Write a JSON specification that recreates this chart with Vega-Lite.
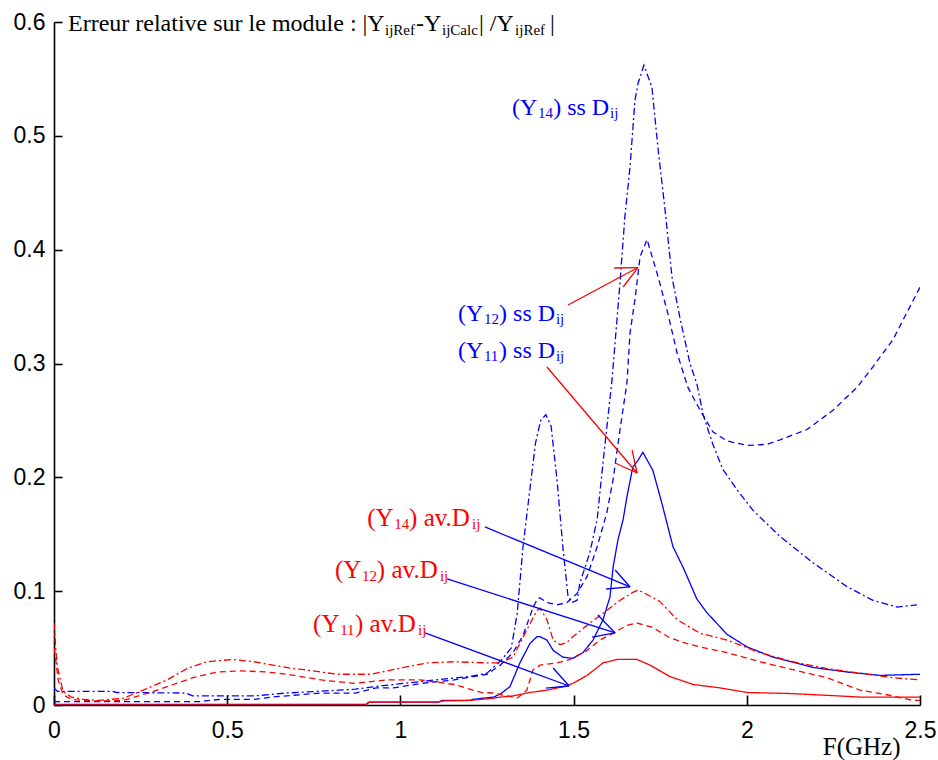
{
  "$schema": "https://vega.github.io/schema/vega-lite/v6.json",
  "width": 866,
  "height": 683,
  "autosize": {"type": "none"},
  "padding": {"left": 54, "top": 22, "right": 18, "bottom": 55},
  "background": "white",
  "config": {
    "view": {"stroke": null},
    "axis": {
      "grid": false,
      "domainColor": "black",
      "domainWidth": 1.6,
      "tickColor": "black",
      "tickWidth": 1.6,
      "labelFont": "Liberation Sans",
      "labelFontSize": 23,
      "labelColor": "black"
    }
  },
  "datasets": {
    "curves": [
      {"s":"Y14 ss","f":0,"v":0.015},{"s":"Y14 ss","f":0.01,"v":0.012},{"s":"Y14 ss","f":0.17,"v":0.012},{"s":"Y14 ss","f":0.18,"v":0.011},{"s":"Y14 ss","f":0.38,"v":0.0105},{"s":"Y14 ss","f":0.4,"v":0.008},{"s":"Y14 ss","f":0.58,"v":0.008},{"s":"Y14 ss","f":0.67,"v":0.0105},{"s":"Y14 ss","f":0.82,"v":0.013},{"s":"Y14 ss","f":0.87,"v":0.014},{"s":"Y14 ss","f":0.95,"v":0.017},{"s":"Y14 ss","f":1.01,"v":0.019},{"s":"Y14 ss","f":1.1,"v":0.022},{"s":"Y14 ss","f":1.2,"v":0.025},{"s":"Y14 ss","f":1.25,"v":0.028},{"s":"Y14 ss","f":1.29,"v":0.039},{"s":"Y14 ss","f":1.32,"v":0.05},{"s":"Y14 ss","f":1.337,"v":0.08},{"s":"Y14 ss","f":1.354,"v":0.139},{"s":"Y14 ss","f":1.374,"v":0.19},{"s":"Y14 ss","f":1.39,"v":0.23},{"s":"Y14 ss","f":1.405,"v":0.25},{"s":"Y14 ss","f":1.42,"v":0.255},{"s":"Y14 ss","f":1.435,"v":0.245},{"s":"Y14 ss","f":1.452,"v":0.198},{"s":"Y14 ss","f":1.469,"v":0.139},{"s":"Y14 ss","f":1.484,"v":0.095},{"s":"Y14 ss","f":1.495,"v":0.09},{"s":"Y14 ss","f":1.51,"v":0.092},{"s":"Y14 ss","f":1.518,"v":0.107},{"s":"Y14 ss","f":1.547,"v":0.134},{"s":"Y14 ss","f":1.568,"v":0.163},{"s":"Y14 ss","f":1.585,"v":0.213},{"s":"Y14 ss","f":1.611,"v":0.286},{"s":"Y14 ss","f":1.634,"v":0.371},{"s":"Y14 ss","f":1.648,"v":0.429},{"s":"Y14 ss","f":1.663,"v":0.473},{"s":"Y14 ss","f":1.677,"v":0.531},{"s":"Y14 ss","f":1.686,"v":0.546},{"s":"Y14 ss","f":1.703,"v":0.562},{"s":"Y14 ss","f":1.726,"v":0.543},{"s":"Y14 ss","f":1.744,"v":0.488},{"s":"Y14 ss","f":1.764,"v":0.435},{"s":"Y14 ss","f":1.784,"v":0.376},{"s":"Y14 ss","f":1.807,"v":0.34},{"s":"Y14 ss","f":1.836,"v":0.3},{"s":"Y14 ss","f":1.856,"v":0.282},{"s":"Y14 ss","f":1.874,"v":0.255},{"s":"Y14 ss","f":1.902,"v":0.229},{"s":"Y14 ss","f":1.931,"v":0.207},{"s":"Y14 ss","f":1.972,"v":0.189},{"s":"Y14 ss","f":2.018,"v":0.171},{"s":"Y14 ss","f":2.096,"v":0.148},{"s":"Y14 ss","f":2.191,"v":0.125},{"s":"Y14 ss","f":2.289,"v":0.104},{"s":"Y14 ss","f":2.364,"v":0.092},{"s":"Y14 ss","f":2.434,"v":0.086},{"s":"Y14 ss","f":2.491,"v":0.088},

      {"s":"Y12 ss","f":0,"v":0.003},{"s":"Y12 ss","f":0.42,"v":0.003},{"s":"Y12 ss","f":0.48,"v":0.005},{"s":"Y12 ss","f":0.58,"v":0.005},{"s":"Y12 ss","f":0.63,"v":0.007},{"s":"Y12 ss","f":0.77,"v":0.0105},{"s":"Y12 ss","f":0.87,"v":0.0105},{"s":"Y12 ss","f":0.93,"v":0.015},{"s":"Y12 ss","f":0.98,"v":0.015},{"s":"Y12 ss","f":1.06,"v":0.019},{"s":"Y12 ss","f":1.155,"v":0.022},{"s":"Y12 ss","f":1.21,"v":0.025},{"s":"Y12 ss","f":1.25,"v":0.027},{"s":"Y12 ss","f":1.288,"v":0.035},{"s":"Y12 ss","f":1.325,"v":0.046},{"s":"Y12 ss","f":1.354,"v":0.061},{"s":"Y12 ss","f":1.374,"v":0.078},{"s":"Y12 ss","f":1.383,"v":0.086},{"s":"Y12 ss","f":1.397,"v":0.094},{"s":"Y12 ss","f":1.403,"v":0.094},{"s":"Y12 ss","f":1.423,"v":0.09},{"s":"Y12 ss","f":1.452,"v":0.088},{"s":"Y12 ss","f":1.481,"v":0.09},{"s":"Y12 ss","f":1.51,"v":0.098},{"s":"Y12 ss","f":1.539,"v":0.113},{"s":"Y12 ss","f":1.568,"v":0.139},{"s":"Y12 ss","f":1.596,"v":0.169},{"s":"Y12 ss","f":1.614,"v":0.198},{"s":"Y12 ss","f":1.634,"v":0.242},{"s":"Y12 ss","f":1.654,"v":0.283},{"s":"Y12 ss","f":1.663,"v":0.327},{"s":"Y12 ss","f":1.677,"v":0.356},{"s":"Y12 ss","f":1.692,"v":0.394},{"s":"Y12 ss","f":1.712,"v":0.409},{"s":"Y12 ss","f":1.744,"v":0.376},{"s":"Y12 ss","f":1.772,"v":0.344},{"s":"Y12 ss","f":1.799,"v":0.309},{"s":"Y12 ss","f":1.83,"v":0.279},{"s":"Y12 ss","f":1.865,"v":0.259},{"s":"Y12 ss","f":1.902,"v":0.24},{"s":"Y12 ss","f":1.943,"v":0.232},{"s":"Y12 ss","f":2.001,"v":0.228},{"s":"Y12 ss","f":2.058,"v":0.229},{"s":"Y12 ss","f":2.096,"v":0.233},{"s":"Y12 ss","f":2.174,"v":0.242},{"s":"Y12 ss","f":2.249,"v":0.259},{"s":"Y12 ss","f":2.318,"v":0.279},{"s":"Y12 ss","f":2.364,"v":0.297},{"s":"Y12 ss","f":2.422,"v":0.321},{"s":"Y12 ss","f":2.471,"v":0.35},{"s":"Y12 ss","f":2.5,"v":0.367},

      {"s":"Y11 ss","f":0,"v":0.0005},{"s":"Y11 ss","f":0.9,"v":0.0005},{"s":"Y11 ss","f":0.91,"v":0.0026},{"s":"Y11 ss","f":1.11,"v":0.0026},{"s":"Y11 ss","f":1.12,"v":0.004},{"s":"Y11 ss","f":1.2,"v":0.004},{"s":"Y11 ss","f":1.21,"v":0.005},{"s":"Y11 ss","f":1.27,"v":0.007},{"s":"Y11 ss","f":1.29,"v":0.01},{"s":"Y11 ss","f":1.316,"v":0.016},{"s":"Y11 ss","f":1.345,"v":0.037},{"s":"Y11 ss","f":1.374,"v":0.054},{"s":"Y11 ss","f":1.394,"v":0.06},{"s":"Y11 ss","f":1.403,"v":0.06},{"s":"Y11 ss","f":1.423,"v":0.057},{"s":"Y11 ss","f":1.441,"v":0.048},{"s":"Y11 ss","f":1.469,"v":0.042},{"s":"Y11 ss","f":1.498,"v":0.041},{"s":"Y11 ss","f":1.527,"v":0.046},{"s":"Y11 ss","f":1.556,"v":0.057},{"s":"Y11 ss","f":1.585,"v":0.075},{"s":"Y11 ss","f":1.605,"v":0.095},{"s":"Y11 ss","f":1.614,"v":0.121},{"s":"Y11 ss","f":1.628,"v":0.145},{"s":"Y11 ss","f":1.643,"v":0.163},{"s":"Y11 ss","f":1.654,"v":0.183},{"s":"Y11 ss","f":1.671,"v":0.209},{"s":"Y11 ss","f":1.686,"v":0.215},{"s":"Y11 ss","f":1.7,"v":0.222},{"s":"Y11 ss","f":1.729,"v":0.206},{"s":"Y11 ss","f":1.755,"v":0.177},{"s":"Y11 ss","f":1.787,"v":0.139},{"s":"Y11 ss","f":1.816,"v":0.121},{"s":"Y11 ss","f":1.856,"v":0.093},{"s":"Y11 ss","f":1.885,"v":0.081},{"s":"Y11 ss","f":1.943,"v":0.062},{"s":"Y11 ss","f":2.001,"v":0.051},{"s":"Y11 ss","f":2.076,"v":0.042},{"s":"Y11 ss","f":2.191,"v":0.033},{"s":"Y11 ss","f":2.289,"v":0.029},{"s":"Y11 ss","f":2.385,"v":0.026},{"s":"Y11 ss","f":2.5,"v":0.027},

      {"s":"Y11 av","f":0,"v":0},{"s":"Y11 av","f":0.9,"v":0},{"s":"Y11 av","f":0.91,"v":0.0026},{"s":"Y11 av","f":1.11,"v":0.0026},{"s":"Y11 av","f":1.12,"v":0.0035},{"s":"Y11 av","f":1.2,"v":0.004},{"s":"Y11 av","f":1.27,"v":0.006},{"s":"Y11 av","f":1.29,"v":0.007},{"s":"Y11 av","f":1.325,"v":0.008},{"s":"Y11 av","f":1.374,"v":0.011},{"s":"Y11 av","f":1.423,"v":0.013},{"s":"Y11 av","f":1.469,"v":0.016},{"s":"Y11 av","f":1.498,"v":0.019},{"s":"Y11 av","f":1.539,"v":0.026},{"s":"Y11 av","f":1.585,"v":0.037},{"s":"Y11 av","f":1.625,"v":0.04},{"s":"Y11 av","f":1.683,"v":0.04},{"s":"Y11 av","f":1.721,"v":0.035},{"s":"Y11 av","f":1.778,"v":0.025},{"s":"Y11 av","f":1.845,"v":0.018},{"s":"Y11 av","f":1.923,"v":0.015},{"s":"Y11 av","f":2.001,"v":0.011},{"s":"Y11 av","f":2.133,"v":0.01},{"s":"Y11 av","f":2.327,"v":0.007},{"s":"Y11 av","f":2.5,"v":0.007},

      {"s":"Y12 av","f":0,"v":0.05},{"s":"Y12 av","f":0.005,"v":0.04},{"s":"Y12 av","f":0.012,"v":0.022},{"s":"Y12 av","f":0.026,"v":0.009},{"s":"Y12 av","f":0.05,"v":0.005},{"s":"Y12 av","f":0.09,"v":0.004},{"s":"Y12 av","f":0.13,"v":0.0035},{"s":"Y12 av","f":0.2,"v":0.004},{"s":"Y12 av","f":0.277,"v":0.011},{"s":"Y12 av","f":0.344,"v":0.018},{"s":"Y12 av","f":0.401,"v":0.024},{"s":"Y12 av","f":0.471,"v":0.029},{"s":"Y12 av","f":0.537,"v":0.03},{"s":"Y12 av","f":0.615,"v":0.029},{"s":"Y12 av","f":0.673,"v":0.027},{"s":"Y12 av","f":0.771,"v":0.022},{"s":"Y12 av","f":0.866,"v":0.019},{"s":"Y12 av","f":0.961,"v":0.022},{"s":"Y12 av","f":1.059,"v":0.022},{"s":"Y12 av","f":1.155,"v":0.018},{"s":"Y12 av","f":1.233,"v":0.011},{"s":"Y12 av","f":1.27,"v":0.0105},{"s":"Y12 av","f":1.337,"v":0.006},{"s":"Y12 av","f":1.365,"v":0.013},{"s":"Y12 av","f":1.383,"v":0.031},{"s":"Y12 av","f":1.403,"v":0.035},{"s":"Y12 av","f":1.452,"v":0.037},{"s":"Y12 av","f":1.49,"v":0.04},{"s":"Y12 av","f":1.539,"v":0.048},{"s":"Y12 av","f":1.576,"v":0.057},{"s":"Y12 av","f":1.614,"v":0.063},{"s":"Y12 av","f":1.654,"v":0.07},{"s":"Y12 av","f":1.683,"v":0.072},{"s":"Y12 av","f":1.729,"v":0.068},{"s":"Y12 av","f":1.778,"v":0.059},{"s":"Y12 av","f":1.827,"v":0.054},{"s":"Y12 av","f":1.865,"v":0.051},{"s":"Y12 av","f":1.943,"v":0.046},{"s":"Y12 av","f":2.038,"v":0.038},{"s":"Y12 av","f":2.133,"v":0.031},{"s":"Y12 av","f":2.231,"v":0.024},{"s":"Y12 av","f":2.327,"v":0.013},{"s":"Y12 av","f":2.405,"v":0.009},{"s":"Y12 av","f":2.48,"v":0.004},{"s":"Y12 av","f":2.5,"v":0.004},

      {"s":"Y14 av","f":0,"v":0.072},{"s":"Y14 av","f":0.005,"v":0.05},{"s":"Y14 av","f":0.01,"v":0.033},{"s":"Y14 av","f":0.026,"v":0.012},{"s":"Y14 av","f":0.05,"v":0.007},{"s":"Y14 av","f":0.084,"v":0.005},{"s":"Y14 av","f":0.13,"v":0.004},{"s":"Y14 av","f":0.2,"v":0.006},{"s":"Y14 av","f":0.257,"v":0.013},{"s":"Y14 av","f":0.326,"v":0.022},{"s":"Y14 av","f":0.384,"v":0.032},{"s":"Y14 av","f":0.442,"v":0.038},{"s":"Y14 av","f":0.517,"v":0.04},{"s":"Y14 av","f":0.577,"v":0.038},{"s":"Y14 av","f":0.632,"v":0.035},{"s":"Y14 av","f":0.69,"v":0.032},{"s":"Y14 av","f":0.722,"v":0.031},{"s":"Y14 av","f":0.817,"v":0.027},{"s":"Y14 av","f":0.915,"v":0.027},{"s":"Y14 av","f":1.01,"v":0.033},{"s":"Y14 av","f":1.077,"v":0.037},{"s":"Y14 av","f":1.155,"v":0.038},{"s":"Y14 av","f":1.25,"v":0.037},{"s":"Y14 av","f":1.288,"v":0.037},{"s":"Y14 av","f":1.325,"v":0.042},{"s":"Y14 av","f":1.365,"v":0.066},{"s":"Y14 av","f":1.394,"v":0.083},{"s":"Y14 av","f":1.403,"v":0.085},{"s":"Y14 av","f":1.423,"v":0.075},{"s":"Y14 av","f":1.441,"v":0.057},{"s":"Y14 av","f":1.461,"v":0.053},{"s":"Y14 av","f":1.481,"v":0.055},{"s":"Y14 av","f":1.498,"v":0.06},{"s":"Y14 av","f":1.547,"v":0.072},{"s":"Y14 av","f":1.596,"v":0.083},{"s":"Y14 av","f":1.634,"v":0.092},{"s":"Y14 av","f":1.671,"v":0.099},{"s":"Y14 av","f":1.686,"v":0.101},{"s":"Y14 av","f":1.7,"v":0.099},{"s":"Y14 av","f":1.749,"v":0.091},{"s":"Y14 av","f":1.799,"v":0.075},{"s":"Y14 av","f":1.865,"v":0.063},{"s":"Y14 av","f":1.943,"v":0.057},{"s":"Y14 av","f":2.038,"v":0.046},{"s":"Y14 av","f":2.133,"v":0.038},{"s":"Y14 av","f":2.231,"v":0.032},{"s":"Y14 av","f":2.327,"v":0.028},{"s":"Y14 av","f":2.42,"v":0.024},{"s":"Y14 av","f":2.5,"v":0.022}
    ],
    "arrows": [
      {"target":"ss","f":1.484,"v":0.3514,"f2":1.686,"v2":0.3843},
      {"target":"ss","f":1.617,"v":0.3839,"f2":1.686,"v2":0.3843},
      {"target":"ss","f":1.643,"v":0.3672,"f2":1.686,"v2":0.3843},
      {"target":"ss","f":1.423,"v":0.2969,"f2":1.683,"v2":0.2038},
      {"target":"ss","f":1.669,"v":0.224,"f2":1.683,"v2":0.2038},
      {"target":"ss","f":1.62,"v":0.2126,"f2":1.683,"v2":0.2038},
      {"target":"av","f":1.244,"v":0.1564,"f2":1.663,"v2":0.1037},
      {"target":"av","f":1.62,"v":0.1186,"f2":1.663,"v2":0.1037},
      {"target":"av","f":1.594,"v":0.1019,"f2":1.663,"v2":0.1037},
      {"target":"av","f":1.135,"v":0.1107,"f2":1.62,"v2":0.0633},
      {"target":"av","f":1.57,"v":0.0791,"f2":1.62,"v2":0.0633},
      {"target":"av","f":1.553,"v":0.0597,"f2":1.62,"v2":0.0633},
      {"target":"av","f":1.071,"v":0.0633,"f2":1.487,"v2":0.0167},
      {"target":"av","f":1.441,"v":0.0325,"f2":1.487,"v2":0.0167},
      {"target":"av","f":1.42,"v":0.0149,"f2":1.487,"v2":0.0167}
    ],
    "labels": [
      {"g":"ss","k":"m","t":"(Y","f":1.322,"v":0.5183},
      {"g":"ss","k":"s","t":"14","f":1.397,"v":0.5157},
      {"g":"ss","k":"m","t":") ss D","f":1.441,"v":0.5183},
      {"g":"ss","k":"s","t":"ij","f":1.605,"v":0.5157},
      {"g":"ss","k":"m","t":"(Y","f":1.166,"v":0.3373},
      {"g":"ss","k":"s","t":"12","f":1.241,"v":0.3347},
      {"g":"ss","k":"m","t":") ss D","f":1.285,"v":0.3373},
      {"g":"ss","k":"s","t":"ij","f":1.449,"v":0.3347},
      {"g":"ss","k":"m","t":"(Y","f":1.166,"v":0.3048},
      {"g":"ss","k":"s","t":"11","f":1.241,"v":0.3022},
      {"g":"ss","k":"m","t":") ss D","f":1.285,"v":0.3048},
      {"g":"ss","k":"s","t":"ij","f":1.449,"v":0.3022},
      {"g":"av","k":"m","t":"(Y","f":0.904,"v":0.1573},
      {"g":"av","k":"s","t":"14","f":0.982,"v":0.1546},
      {"g":"av","k":"m","t":") av.D","f":1.025,"v":0.1573},
      {"g":"av","k":"s","t":"ij","f":1.207,"v":0.1546},
      {"g":"av","k":"m","t":"(Y","f":0.811,"v":0.1116},
      {"g":"av","k":"s","t":"12","f":0.889,"v":0.1089},
      {"g":"av","k":"m","t":") av.D","f":0.932,"v":0.1116},
      {"g":"av","k":"s","t":"ij","f":1.114,"v":0.1089},
      {"g":"av","k":"m","t":"(Y","f":0.748,"v":0.0641},
      {"g":"av","k":"s","t":"11","f":0.826,"v":0.0615},
      {"g":"av","k":"m","t":") av.D","f":0.869,"v":0.0641},
      {"g":"av","k":"s","t":"ij","f":1.051,"v":0.0615},
      {"g":"title","k":"m","t":"Erreur relative sur le module : |Y","f":0.0404,"v":0.5921},
      {"g":"title","k":"s","t":"ijRef","f":0.9555,"v":0.5886},
      {"g":"title","k":"m","t":"-Y","f":1.045,"v":0.5921},
      {"g":"title","k":"s","t":"ijCalc","f":1.12,"v":0.5886},
      {"g":"title","k":"m","t":"| /Y","f":1.227,"v":0.5921},
      {"g":"title","k":"s","t":"ijRef","f":1.331,"v":0.5886},
      {"g":"title","k":"m","t":"|","f":1.432,"v":0.5921}
    ]
  },
  "layer": [
    {
      "data": {"name": "curves"},
      "mark": {"type": "line", "strokeWidth": 1.3, "clip": true},
      "encoding": {
        "x": {
          "field": "f", "type": "quantitative",
          "scale": {"domain": [0, 2.5], "nice": false, "zero": false},
          "axis": {
            "values": [0, 0.5, 1, 1.5, 2, 2.5],
            "labelExpr": "datum.value",
            "tickSize": -10,
            "labelPadding": 24,
            "labelFlush": false,
            "title": "F(GHz)",
            "titleFont": "Liberation Serif",
            "titleFontSize": 25,
            "titleFontWeight": "normal",
            "titleColor": "black",
            "titleAlign": "right",
            "titleAnchor": null,
            "titleX": 846,
            "titleY": 49,
            "titleBaseline": "alphabetic"
          }
        },
        "y": {
          "field": "v", "type": "quantitative",
          "scale": {"domain": [0, 0.6], "nice": false},
          "axis": {
            "values": [0, 0.1, 0.2, 0.3, 0.4, 0.5, 0.6],
            "labelExpr": "datum.value",
            "tickSize": -8,
            "labelPadding": 17,
            "title": null
          }
        },
        "detail": {"field": "s"},
        "color": {
          "field": "s", "type": "nominal", "legend": null,
          "scale": {
            "domain": ["Y11 ss", "Y12 ss", "Y14 ss", "Y11 av", "Y12 av", "Y14 av"],
            "range": ["#0000ff", "#0000ff", "#0000ff", "#ff0000", "#ff0000", "#ff0000"]
          }
        },
        "strokeDash": {
          "field": "s", "type": "nominal", "legend": null,
          "scale": {
            "domain": ["Y11 ss", "Y12 ss", "Y14 ss", "Y11 av", "Y12 av", "Y14 av"],
            "range": [[1, 0], [6, 4], [7, 3, 2, 3], [1, 0], [6, 4], [7, 3, 2, 3]]
          }
        },
        "order": {"field": "f", "type": "quantitative"}
      }
    },
    {
      "data": {"name": "arrows"},
      "transform": [{"filter": "datum.target == 'ss'"}],
      "mark": {"type": "rule", "color": "#ff0000", "strokeWidth": 1.3},
      "encoding": {
        "x": {"field": "f", "type": "quantitative"},
        "y": {"field": "v", "type": "quantitative"},
        "x2": {"field": "f2"},
        "y2": {"field": "v2"}
      }
    },
    {
      "data": {"name": "arrows"},
      "transform": [{"filter": "datum.target == 'av'"}],
      "mark": {"type": "rule", "color": "#0000ff", "strokeWidth": 1.3},
      "encoding": {
        "x": {"field": "f", "type": "quantitative"},
        "y": {"field": "v", "type": "quantitative"},
        "x2": {"field": "f2"},
        "y2": {"field": "v2"}
      }
    },
    {
      "data": {"name": "labels"},
      "transform": [{"filter": "datum.g == 'ss' && datum.k == 'm'"}],
      "mark": {"type": "text", "font": "Liberation Serif", "fontSize": 24, "color": "#0000ff", "align": "left", "baseline": "alphabetic"},
      "encoding": {"x": {"field": "f", "type": "quantitative"}, "y": {"field": "v", "type": "quantitative"}, "text": {"field": "t"}}
    },
    {
      "data": {"name": "labels"},
      "transform": [{"filter": "datum.g == 'ss' && datum.k == 's'"}],
      "mark": {"type": "text", "font": "Liberation Serif", "fontSize": 15, "color": "#0000ff", "align": "left", "baseline": "alphabetic"},
      "encoding": {"x": {"field": "f", "type": "quantitative"}, "y": {"field": "v", "type": "quantitative"}, "text": {"field": "t"}}
    },
    {
      "data": {"name": "labels"},
      "transform": [{"filter": "datum.g == 'av' && datum.k == 'm'"}],
      "mark": {"type": "text", "font": "Liberation Serif", "fontSize": 25, "color": "#ff0000", "align": "left", "baseline": "alphabetic"},
      "encoding": {"x": {"field": "f", "type": "quantitative"}, "y": {"field": "v", "type": "quantitative"}, "text": {"field": "t"}}
    },
    {
      "data": {"name": "labels"},
      "transform": [{"filter": "datum.g == 'av' && datum.k == 's'"}],
      "mark": {"type": "text", "font": "Liberation Serif", "fontSize": 15, "color": "#ff0000", "align": "left", "baseline": "alphabetic"},
      "encoding": {"x": {"field": "f", "type": "quantitative"}, "y": {"field": "v", "type": "quantitative"}, "text": {"field": "t"}}
    },
    {
      "data": {"name": "labels"},
      "transform": [{"filter": "datum.g == 'title' && datum.k == 'm'"}],
      "mark": {"type": "text", "font": "Liberation Serif", "fontSize": 24, "color": "black", "align": "left", "baseline": "alphabetic"},
      "encoding": {"x": {"field": "f", "type": "quantitative"}, "y": {"field": "v", "type": "quantitative"}, "text": {"field": "t"}}
    },
    {
      "data": {"name": "labels"},
      "transform": [{"filter": "datum.g == 'title' && datum.k == 's'"}],
      "mark": {"type": "text", "font": "Liberation Serif", "fontSize": 15, "color": "black", "align": "left", "baseline": "alphabetic"},
      "encoding": {"x": {"field": "f", "type": "quantitative"}, "y": {"field": "v", "type": "quantitative"}, "text": {"field": "t"}}
    }
  ]
}
